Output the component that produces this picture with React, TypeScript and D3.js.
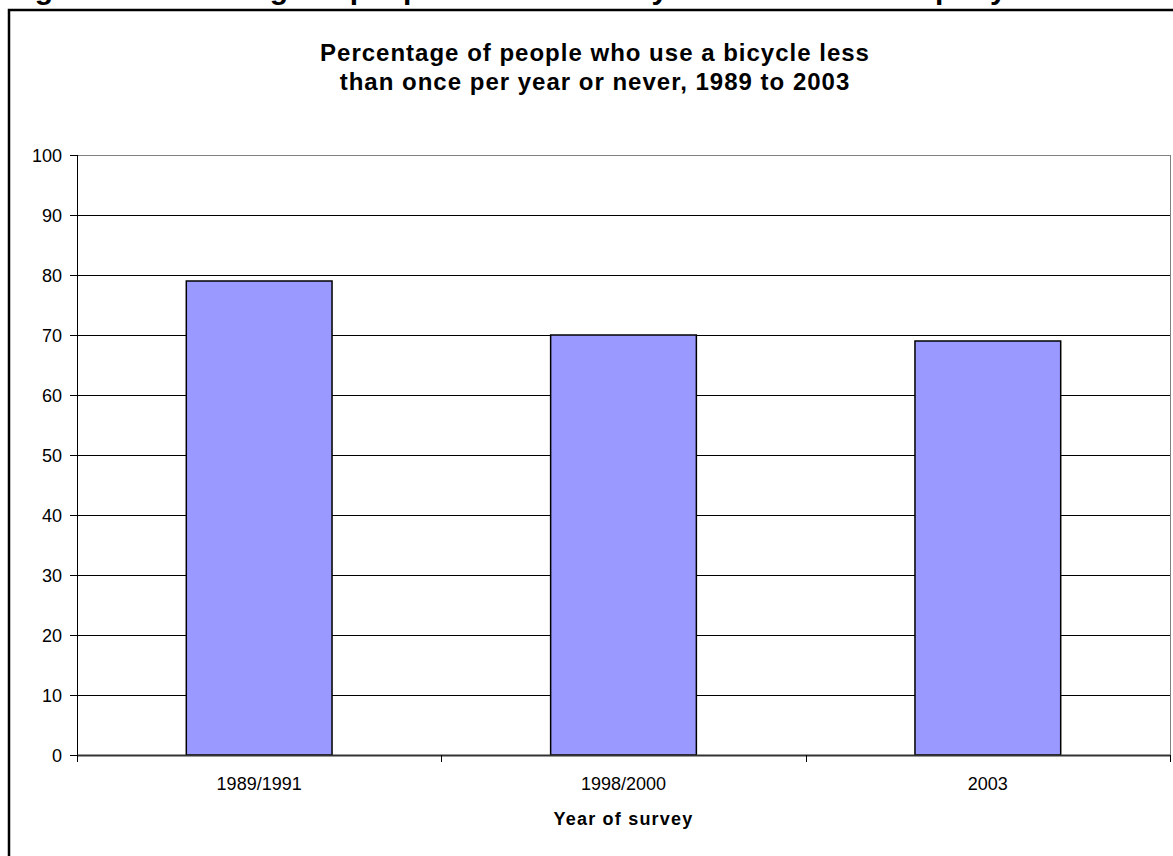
import * as d3 from 'd3';
import * as React from 'react';

const W = 1173;
const H = 856;

// survey data
const categories = ['1989/1991', '1998/2000', '2003'];
const values = [79, 70, 69];
const yTicks = [0, 10, 20, 30, 40, 50, 60, 70, 80, 90, 100];

const titleLines = [
  'Percentage of people who use a bicycle less',
  'than once per year or never, 1989 to 2003',
];
const caption =
  'Figure 2: Percentage of people who use a bicycle less than once per year or never, 1989 to 2003';
const xTitle = 'Year of survey';

const font = "Arial, 'Liberation Sans', sans-serif";
const plot = { left: 77, right: 1170, top: 155, bottom: 755 };

export default function App() {
  const x = d3
    .scaleBand<string>()
    .domain(categories)
    .range([plot.left, plot.right])
    .paddingInner(0.6)
    .paddingOuter(0.3);

  const band = d3
    .scaleBand<string>()
    .domain(categories)
    .range([plot.left, plot.right]);

  const y = d3.scaleLinear().domain([0, 100]).range([plot.bottom, plot.top]);

  const xTickPos = categories.map(c => band(c) as number).concat(plot.right);

  return (
    <svg
      width={W}
      height={H}
      style={{ position: 'absolute', left: 0, top: 0, background: '#fff' }}
      fontFamily={font}
    >
      <rect x={0} y={0} width={W} height={H} fill="#fff" />

      {/* caption above the chart, cut off by the page edge */}
      <text x={8} y={-1} fontSize={30} fontWeight="bold" fill="#000">
        {caption}
      </text>

      {/* chart frame */}
      <rect x={9} y={10} width={W + 20} height={H + 20} fill="none" stroke="#000" strokeWidth={2.5} />

      {/* title */}
      {titleLines.map((t, i) => (
        <text
          key={t}
          x={595}
          y={61 + i * 29}
          textAnchor="middle"
          fontSize={24}
          fontWeight="bold"
          letterSpacing={1}
          fill="#000"
        >
          {t}
        </text>
      ))}

      {/* gridlines */}
      {yTicks
        .filter(t => t > 0 && t < 100)
        .map(t => (
          <line
            key={t}
            x1={plot.left}
            x2={plot.right}
            y1={Math.round(y(t)) + 0.5}
            y2={Math.round(y(t)) + 0.5}
            stroke="#000"
            strokeWidth={1}
          />
        ))}

      {/* plot area border */}
      <rect
        x={plot.left + 0.5}
        y={Math.round(y(100)) + 0.5}
        width={plot.right - plot.left}
        height={y(0) - y(100)}
        fill="none"
        stroke="#808080"
        strokeWidth={1}
      />

      {/* bars */}
      {categories.map((c, i) => (
        <rect
          key={c}
          x={x(c)}
          y={y(values[i])}
          width={x.bandwidth()}
          height={y(0) - y(values[i])}
          fill="#9999FF"
          stroke="#000"
          strokeWidth={1.5}
        />
      ))}

      {/* y axis */}
      <line x1={plot.left + 0.5} x2={plot.left + 0.5} y1={y(100)} y2={y(0)} stroke="#000" strokeWidth={1} />
      {yTicks.map(t => (
        <g key={t} transform={`translate(0,${Math.round(y(t)) + 0.5})`}>
          <line x1={plot.left - 7} x2={plot.left} stroke="#000" strokeWidth={1} />
          <text x={62} dy="0.35em" textAnchor="end" fontSize={18} fill="#000">
            {t}
          </text>
        </g>
      ))}

      {/* x axis */}
      <line x1={plot.left} x2={plot.right} y1={y(0) + 0.5} y2={y(0) + 0.5} stroke="#333" strokeWidth={2} />
      {xTickPos.map((p, i) => (
        <line
          key={i}
          x1={Math.round(p) + 0.5}
          x2={Math.round(p) + 0.5}
          y1={y(0)}
          y2={y(0) + 7}
          stroke="#000"
          strokeWidth={1}
        />
      ))}
      {categories.map(c => (
        <text
          key={c}
          x={(band(c) as number) + band.bandwidth() / 2}
          y={790}
          textAnchor="middle"
          fontSize={18}
          fill="#000"
        >
          {c}
        </text>
      ))}

      <text
        x={(plot.left + plot.right) / 2}
        y={825}
        textAnchor="middle"
        fontSize={18}
        fontWeight="bold"
        letterSpacing={1.2}
        fill="#000"
      >
        {xTitle}
      </text>
    </svg>
  );
}
